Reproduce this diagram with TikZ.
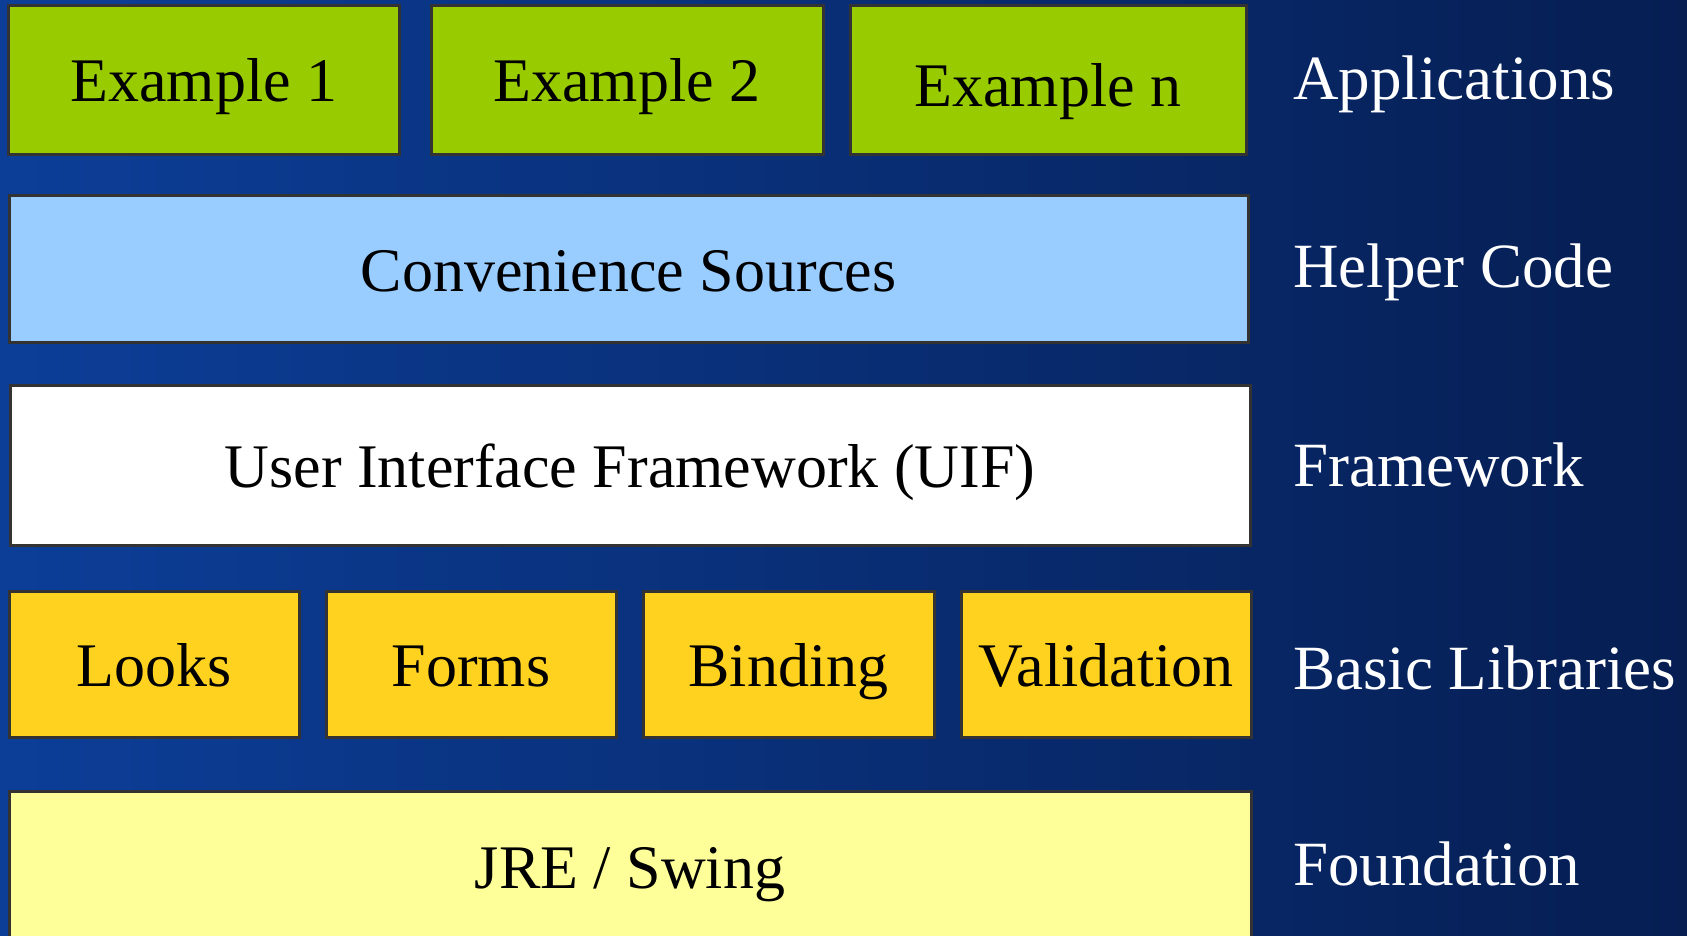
\documentclass[tikz,border=0pt]{standalone}
\usepackage{fontspec}
\setmainfont{Liberation Serif}
\definecolor{bgleft}{RGB}{12,62,152}
\definecolor{bgright}{RGB}{6,30,82}
\definecolor{boxline}{RGB}{51,51,51}
\definecolor{appgreen}{RGB}{153,204,0}
\definecolor{helperblue}{RGB}{153,204,255}
\definecolor{libgold}{RGB}{255,210,32}
\definecolor{basepale}{RGB}{255,255,153}
\tikzset{
  layerbox/.style={draw=boxline, line width=1.5pt, inner sep=0pt,
    text height=26pt, text depth=4pt,
    font=\fontsize{31}{37}\selectfont, text=black},
  layername/.style={anchor=base west, text=white, font=\fontsize{31.5}{37}\selectfont}
}

\begin{document}
\begin{tikzpicture}[x=0.5pt,y=-0.5pt]
        % Background
        \useasboundingbox (0,0) rectangle (1687,936);
        \clip (0,0) rectangle (1687,936);
        \shade[left color=bgleft, right color=bgright] (0,0) rectangle (1687,936);

        % Applications
        \node[layerbox, fill=appgreen, minimum width=195.5pt, minimum height=74.5pt] (ex1) at (204,80) {Example 1};
        \node[layerbox, fill=appgreen, minimum width=196pt, minimum height=74.5pt] (ex2) at (627,80) {Example 2};
        \node[layerbox, fill=appgreen, minimum width=198pt, minimum height=74.5pt] (exn) at (1048,80) {\raisebox{-2.5pt}{Example n}};

        % Helper code
        \node[layerbox, fill=helperblue, minimum width=619.5pt, minimum height=73.5pt] (conv) at (628.5,269.5) {Convenience Sources};

        % Framework
        \node[layerbox, fill=white, minimum width=620pt, minimum height=80pt] (uif) at (630,465) {User Interface Framework (UIF)};

        % Basic libraries
        \node[layerbox, fill=libgold, minimum width=145pt, minimum height=73pt] (looks) at (154,664) {Looks};
        \node[layerbox, fill=libgold, minimum width=145pt, minimum height=73pt] (forms) at (471,664) {Forms};
        \node[layerbox, fill=libgold, minimum width=145.5pt, minimum height=73pt] (binding) at (788.5,664) {Binding};
        \node[layerbox, fill=libgold, minimum width=145pt, minimum height=73pt] (valid) at (1106,664) {Validation};

        % Foundation
        \node[layerbox, fill=basepale, minimum width=621pt, minimum height=75pt] (jre) at (630,866) {JRE / Swing};

        % Layer names
        \node[layername] (apps) at (1286,100) {Applications};
        \node[layername] (helper) at (1286,288) {Helper Code};
        \node[layername] (frame) at (1286,486) {Framework};
        \node[layername] (basic) at (1286,689) {Basic Libraries};
        \node[layername] (found) at (1286,885) {Foundation};

    \end{tikzpicture}
\end{document}
